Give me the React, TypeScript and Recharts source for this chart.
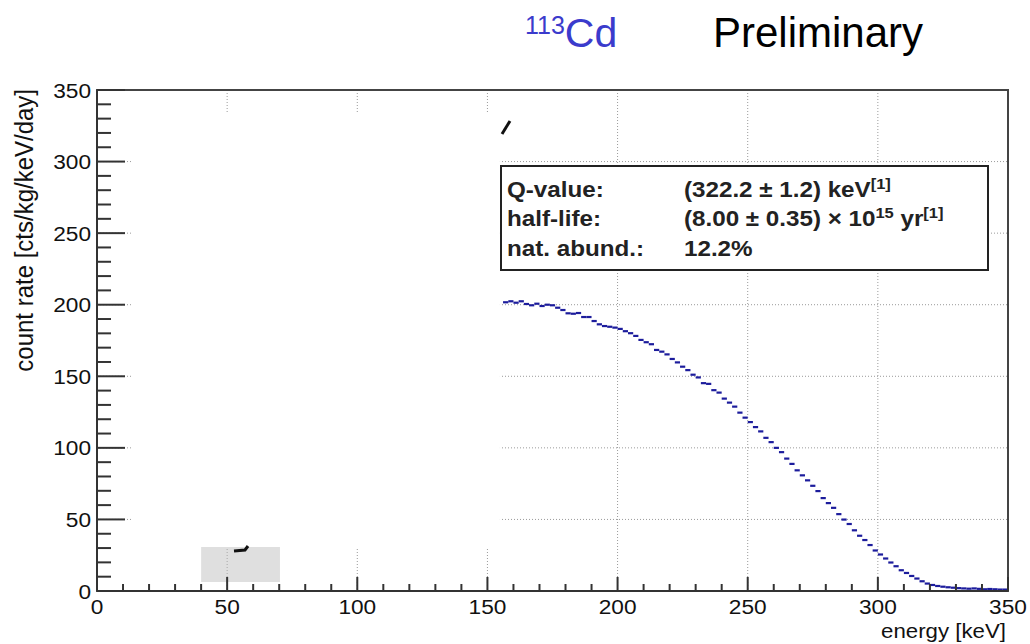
import React from "react";
import {
  ScatterChart,
  Scatter,
  XAxis,
  YAxis,
  CartesianGrid,
  ErrorBar,
  ReferenceArea,
} from "recharts";

// bin centres [keV], 2 keV bins
const binCenters = [
  157, 159, 161, 163, 165, 167, 169, 171, 173, 175, 177, 179, 181, 183, 185, 187, 189, 191, 193,
  195, 197, 199, 201, 203, 205, 207, 209, 211, 213, 215, 217, 219, 221, 223, 225, 227, 229, 231, 233,
  235, 237, 239, 241, 243, 245, 247, 249, 251, 253, 255, 257, 259, 261, 263, 265, 267, 269, 271, 273,
  275, 277, 279, 281, 283, 285, 287, 289, 291, 293, 295, 297, 299, 301, 303, 305, 307, 309, 311, 313,
  315, 317, 319, 321, 323, 325, 327, 329, 331, 333, 335, 337, 339, 341, 343, 345, 347, 349,
];

// count rate [cts/kg/keV/day]
const countRate = [
  201.7, 202.4, 201.4, 202.4, 200.5, 199.6, 200.7, 199.1, 200.0, 199.6, 197.9, 196.3, 194.0,
  193.7, 194.2, 191.4, 191.4, 188.6, 186.3, 185.1, 184.6, 184.0,
  183.1, 181.5, 180.1, 178.2, 175.4, 173.8, 172.4, 168.4, 167.2, 165.3, 162.1, 159.7, 156.7, 154.3,
  151.1, 149.2, 145.2, 144.7, 140.3, 138.6, 134.4, 131.6, 128.8, 124.6, 121.1, 118.0, 114.5, 111.5,
  107.0, 104.0, 100.0, 97.0, 92.5, 88.8, 84.3, 80.8, 77.3, 73.5, 69.8, 64.9, 61.4, 58.1, 53.7, 49.9,
  46.8, 42.4, 38.6, 35.6, 32.1, 28.3,
  25.5, 22.7, 19.9, 17.3, 14.5, 12.6, 10.5, 8.7, 6.8, 5.2, 4.2, 3.5, 3.0, 2.6, 2.3, 2.0, 1.8, 1.6,
  1.8, 1.5, 1.2, 1.4, 1.2, 1.0, 1.0,
];

const halfBin = 1;

const xTicks = [0, 10, 20, 30, 40, 50, 60, 70, 80, 90, 100, 110, 120, 130, 140, 150, 160, 170, 180, 190, 200, 210, 220, 230, 240, 250, 260, 270, 280, 290, 300, 310, 320, 330, 340, 350];
const yTicks = [0, 10, 20, 30, 40, 50, 60, 70, 80, 90, 100, 110, 120, 130, 140, 150, 160, 170, 180, 190, 200, 210, 220, 230, 240, 250, 260, 270, 280, 290, 300, 310, 320, 330, 340, 350];
const gridX = [50, 100, 150, 200, 250, 300];
const gridY = [50, 100, 150, 200, 250, 300];

// masked regions in the original figure (data units)
const maskBox = { x1: 13.4, x2: 154.8, y1: 30.7, y2: 334 };
const greyBox = { x1: 40, x2: 70.3, y1: 6.3, y2: 30.7 };

const data = binCenters.map((e, i) => ({ x: e, y: countRate[i], xerr: halfBin }));

const FONT = '"Liberation Sans", Arial, Helvetica, sans-serif';
const AXIS = "#333";

const XTick = (props: any) => {
  const { x, y, payload } = props;
  const v = payload.value;
  const major = v % 50 === 0;
  return (
    <g>
      <line x1={x} x2={x} y1={y} y2={y - (major ? 14 : 7)} stroke={AXIS} strokeWidth={2} />
      {major && (
        <text
          transform={`translate(${x},${y + 23}) scale(1.08,1)`}
          textAnchor="middle"
          fontSize={21}
          fontFamily={FONT}
          fill="#111"
        >
          {v}
        </text>
      )}
    </g>
  );
};

const YTick = (props: any) => {
  const { x, y, payload } = props;
  const v = payload.value;
  const major = v % 50 === 0;
  return (
    <g>
      <line x1={x} x2={x + (major ? 28 : 14)} y1={y} y2={y} stroke={AXIS} strokeWidth={2} />
      {major && (
        <text
          transform={`translate(${x - 6},${y + 7.5}) scale(1.08,1)`}
          textAnchor="end"
          fontSize={21}
          fontFamily={FONT}
          fill="#111"
        >
          {v}
        </text>
      )}
    </g>
  );
};

const Overlay = () => (
  <svg
    width={1030}
    height={644}
    style={{ position: "absolute", left: 0, top: 0, pointerEvents: "none" }}
    fontFamily={FONT}
  >
    <text x={525} y={47} fill="#3b3bcc" fontSize={41}>
      <tspan fontSize={25} dy={-13}>113</tspan>
      <tspan dy={13}>Cd</tspan>
    </text>
    <text x={713} y={47} fill="#000" fontSize={42}>
      Preliminary
    </text>

    <rect x={501} y={166} width={487} height={104} fill="#fff" stroke="#222" strokeWidth={2} />
    <g fill="#222" fontWeight="bold" fontSize={22}>
      <text transform="translate(507,197) scale(1.1,1)">Q-value:</text>
      <text transform="translate(507,226) scale(1.1,1)">half-life:</text>
      <text transform="translate(507,256) scale(1.1,1)">nat. abund.:</text>
      <text transform="translate(684,197) scale(1.1,1)">
        (322.2 ± 1.2) keV
        <tspan fontSize={15} dy={-8}>[1]</tspan>
      </text>
      <text transform="translate(684,226) scale(1.1,1)">
        (8.00 ± 0.35) × 10
        <tspan fontSize={15} dy={-8}>15</tspan>
        <tspan dy={8}> yr</tspan>
        <tspan fontSize={15} dy={-8}>[1]</tspan>
      </text>
      <text transform="translate(684,256) scale(1.1,1)">12.2%</text>
    </g>

    <text
      transform="translate(33,89) scale(1.06,1) rotate(-90)"
      textAnchor="end"
      fontSize={24}
      fill="#111"
    >
      count rate [cts/kg/keV/day]
    </text>
    <text
      transform="translate(1006,638) scale(1.06,1)"
      textAnchor="end"
      fontSize={21}
      fill="#111"
    >
      energy [keV]
    </text>

    <path d="M502,134 L510,121" stroke="#111" strokeWidth={3} fill="none" />
    <path d="M234,551 L245,550 L248,546" stroke="#111" strokeWidth={3} fill="none" />
  </svg>
);

export default function App() {
  return (
    <div style={{ position: "absolute", left: 0, top: 0, width: 1030, height: 644, background: "#fff" }}>
      <ScatterChart width={1030} height={644} margin={{ top: 90, right: 22, bottom: 13, left: 17 }}>
        <CartesianGrid
          stroke="#9a9a9a"
          strokeDasharray="1 2"
          horizontalValues={gridY}
          verticalValues={gridX}
        />
        <ReferenceArea
          x1={maskBox.x1}
          x2={maskBox.x2}
          y1={maskBox.y1}
          y2={maskBox.y2}
          fill="#fff"
          fillOpacity={1}
          stroke="none"
        />
        <ReferenceArea
          x1={greyBox.x1}
          x2={greyBox.x2}
          y1={greyBox.y1}
          y2={greyBox.y2}
          fill="#b8b8b8"
          fillOpacity={0.45}
          stroke="none"
        />
        <ReferenceArea x1={0} x2={350} y1={0} y2={350} fill="none" stroke="#444" strokeWidth={2} />
        <XAxis
          type="number"
          dataKey="x"
          domain={[0, 350]}
          ticks={xTicks}
          interval={0}
          height={40}
          tickSize={0}
          tickMargin={0}
          tickLine={false}
          tick={XTick}
          axisLine={{ stroke: AXIS, strokeWidth: 2 }}
          allowDataOverflow
        />
        <YAxis
          type="number"
          dataKey="y"
          domain={[0, 350]}
          ticks={yTicks}
          interval={0}
          width={80}
          tickSize={0}
          tickMargin={0}
          tickLine={false}
          tick={YTick}
          axisLine={{ stroke: AXIS, strokeWidth: 2 }}
          allowDataOverflow
        />
        <Scatter data={data} fill="#1a1a9a" shape={() => <g />} isAnimationActive={false}>
          <ErrorBar dataKey="xerr" direction="x" width={0} stroke="#1c1c9c" strokeWidth={2.2} />
        </Scatter>
      </ScatterChart>
      <Overlay />
    </div>
  );
}
